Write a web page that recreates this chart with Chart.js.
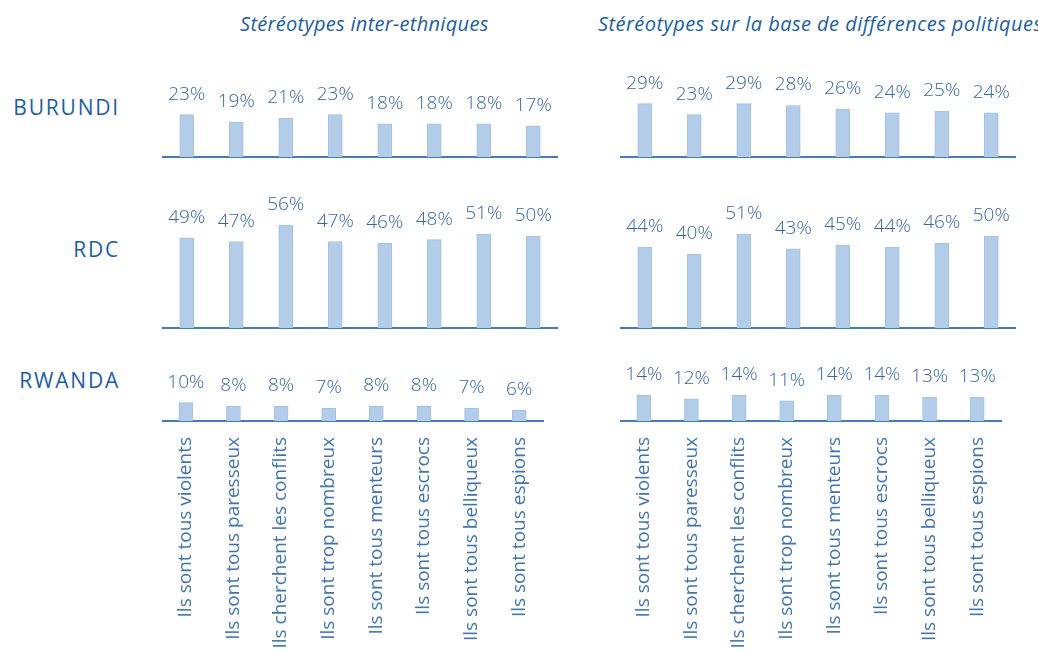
<!DOCTYPE html>
<html><head><meta charset="utf-8">
<script src="https://cdn.jsdelivr.net/npm/chart.js@4"></script>
<style>
html,body{margin:0;padding:0;background:#fff;width:1038px;height:651px;overflow:hidden;position:relative;font-family:"Open Sans",sans-serif}
.t{position:absolute;white-space:nowrap;font-style:italic;font-size:20px;line-height:20px;letter-spacing:0.3px;color:#1b5ea6;top:14px}
.r{position:absolute;right:918px;white-space:nowrap;font-size:21px;line-height:21px;letter-spacing:1.8px;color:#1b5ea6}
canvas{position:absolute}
</style></head><body>
<div class="t" style="left:240px">Stéréotypes inter-ethniques</div>
<div class="t" style="left:598px;letter-spacing:0.45px">Stéréotypes sur la base de différences politiques</div>
<div class="r" style="top:97px">BURUNDI</div>
<div class="r" style="top:238.5px">RDC</div>
<div class="r" style="top:369.5px">RWANDA</div>
<script>
const categories = ["Ils sont tous violents","Ils sont tous paresseux","Ils cherchent les conflits","Ils sont trop nombreux","Ils sont tous menteurs","Ils sont tous escrocs","Ils sont tous belliqueux","Ils sont tous espions"];
const interBurundi = [23,19,21,23,18,18,18,17];
const interRDC     = [49,47,56,47,46,48,51,50];
const interRwanda  = [10,8,8,7,8,8,7,6];
const poliBurundi  = [29,23,29,28,26,24,25,24];
const poliRDC      = [44,40,51,43,45,44,46,50];
const poliRwanda   = [14,12,14,11,14,14,13,13];

const PX = 1.84; // pixels per percentage point
const AXIS = '#3f7cc0';
const valueLabels = {
  id:'valueLabels',
  afterDatasetsDraw(chart){
    const ctx = chart.ctx;
    const meta = chart.getDatasetMeta(0);
    const d = chart.data.datasets[0].data;
    ctx.save();
    ctx.font = '300 19px "Open Sans"';
    ctx.fillStyle = '#3568a3';
    ctx.textAlign = 'center';
    ctx.textBaseline = 'alphabetic';
    meta.data.forEach((bar,i)=>{ ctx.fillText(d[i] + '%', bar.x, bar.y - 15); });
    ctx.restore();
  }
};

function panel(values, left, right, top, bottom, baseline, yMax, showTicks){
  const c = document.createElement('canvas');
  c.width = right-left; c.height = bottom-top;
  c.style.left = left+'px'; c.style.top = top+'px';
  c.style.width = (right-left)+'px'; c.style.height = (bottom-top)+'px';
  document.body.appendChild(c);
  const axisH = showTicks ? bottom-baseline : 0;
  new Chart(c, {
    type:'bar',
    data:{labels:categories, datasets:[{data:values, backgroundColor:'#b3cde9', borderColor:'#a2c0e3', borderWidth:1, barThickness:14}]},
    options:{
      responsive:false, animation:false, devicePixelRatio:1,
      layout:{padding:{top:(baseline-top)-yMax*PX, bottom: showTicks?0:(bottom-baseline), left:0, right:0}},
      plugins:{legend:{display:false}, tooltip:{enabled:false}},
      scales:{
        x:{
          z:1,
          grid:{display:false, drawTicks:false},
          border:{display:true, color:AXIS, width:2},
          ticks:{display:showTicks, autoSkip:false, maxRotation:90, minRotation:90, padding:16, color:'#3f74b0', font:{family:'Open Sans', size:19, weight:'400'}},
          afterFit(s){ s.height = axisH; }
        },
        y:{display:false, min:0, max:yMax}
      }
    },
    plugins:[valueLabels]
  });
}

const L = [162, 558], R = [620, 1016];
panel(interBurundi, L[0], L[1], 60, 162, 157, 40, false);
panel(poliBurundi,  R[0], R[1], 60, 162, 157, 40, false);
panel(interRDC,     L[0], L[1], 180, 333, 328, 60, false);
panel(poliRDC,      R[0], R[1], 180, 333, 328, 60, false);
panel(interRwanda,  L[0], L[1], 350, 651, 421, 20, true);
panel(poliRwanda,   R[0], R[1], 350, 651, 421, 20, true);
</script>
</body></html>
